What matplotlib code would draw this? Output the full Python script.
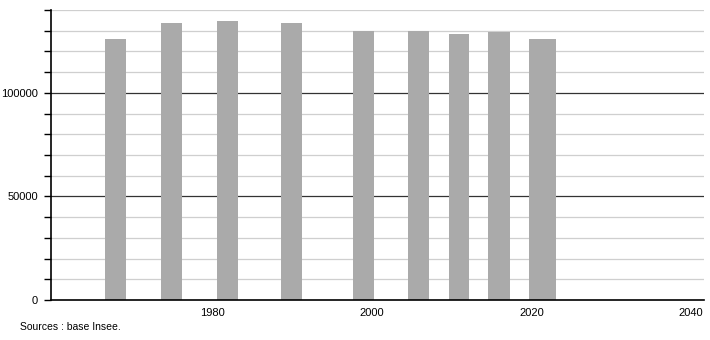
import matplotlib
matplotlib.use("Agg")
import matplotlib.pyplot as plt
import numpy as np

annees = [1968, 1975, 1982, 1990, 1999, 2006, 2011, 2016, 2021]
population = [126000, 133700, 134500, 133700, 129900, 130000, 128200, 129200, 126100]
largeurs = [2.68, 2.68, 2.68, 2.68, 2.68, 2.68, 2.6, 2.68, 3.48]
decalage = [-0.2, -0.2, -0.2, -0.1, -0.1, -0.2, -0.1, -0.1, 0.4]
xticks = [1980, 2000, 2020, 2040]
yticks_lbl = [0, 50000, 100000]

plt.rcParams['font.family'] = ['Liberation Sans Narrow', 'Liberation Sans', 'DejaVu Sans']

fig = plt.figure(figsize=(7.1, 3.4), dpi=100)
ax = fig.add_axes([50.5 / 710, 40 / 340, 653 / 710, 290 / 340])

# grille: fine tous les 10000, foncee aux 50000
for v in range(10000, 140001, 10000):
    if v % 50000 == 0:
        ax.axhline(v, color="#333333", lw=0.9, zorder=1)
    else:
        ax.axhline(v, color="#cfcfcf", lw=0.9, zorder=1)

x = np.array(annees) + np.array(decalage)
ax.bar(x, population, width=largeurs, color="#aaaaaa", zorder=2)

ax.set_xlim(1959.6, 2041.6)
ax.set_ylim(0, 140000)

ax.set_yticks(range(0, 140001, 10000))
ax.set_yticklabels([str(v) if v in yticks_lbl else "" for v in range(0, 140001, 10000)])
ax.set_xticks(xticks)
ax.set_xticklabels([str(t) for t in xticks])
ax.tick_params(axis="y", length=5, width=1, labelsize=8, pad=4)
ax.tick_params(axis="x", length=0, labelsize=8, pad=6)

for s in ["top", "right"]:
    ax.spines[s].set_visible(False)
ax.spines["left"].set_linewidth(1.2)
ax.spines["bottom"].set_linewidth(1.2)

fig.text(20 / 710, 1 - 327 / 340, "Sources : base Insee.", fontsize=7.5, va="center", ha="left")

fig.savefig("out.png", dpi=100)
